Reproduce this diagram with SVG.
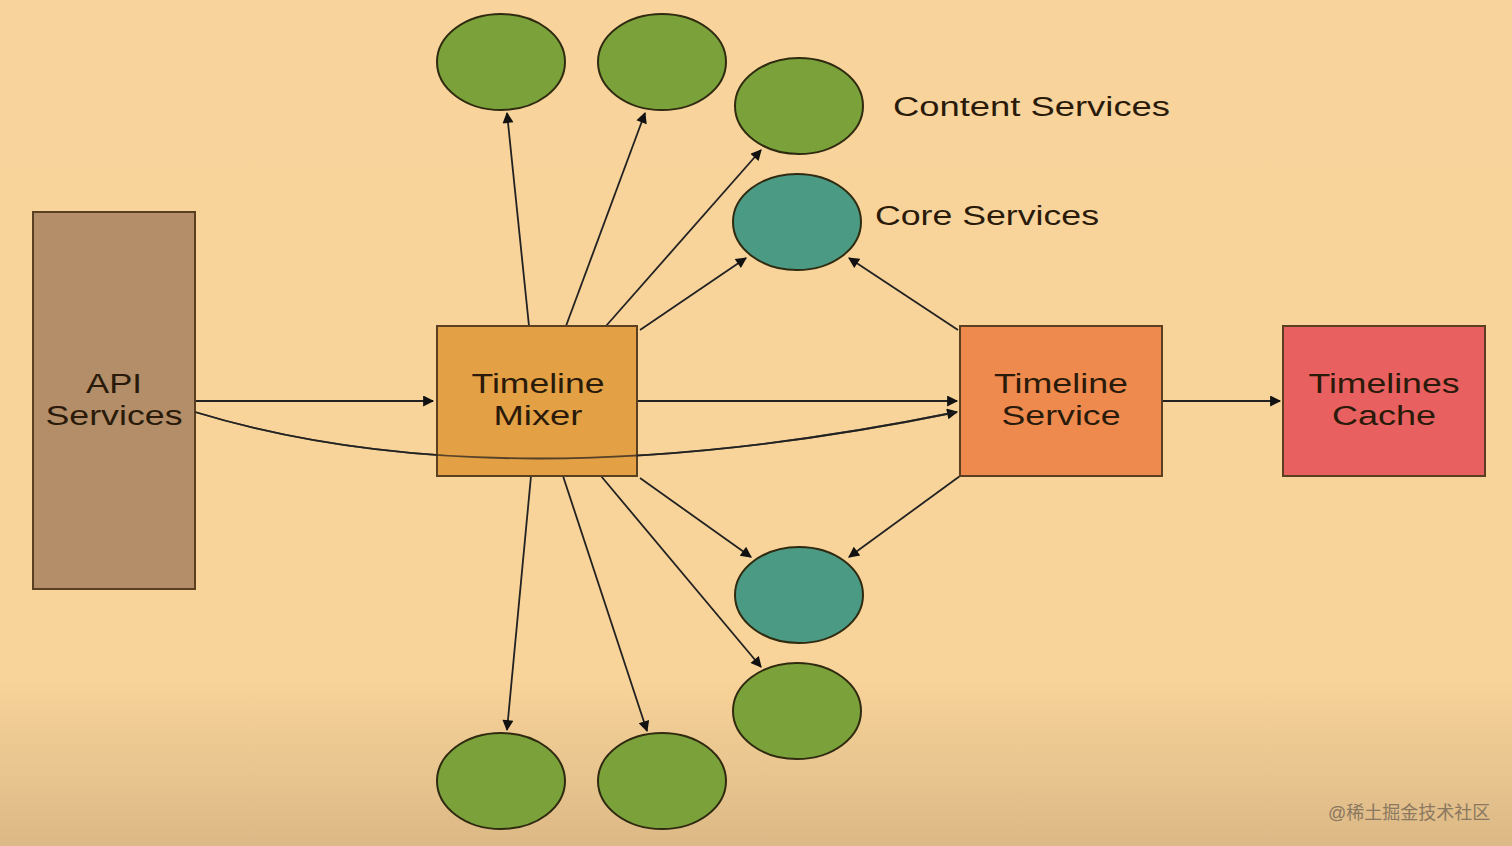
<svg xmlns="http://www.w3.org/2000/svg" width="1512" height="846" viewBox="0 0 1512 846">
<defs>
<linearGradient id="bg" x1="0" y1="0" x2="0" y2="1">
<stop offset="0" stop-color="#f8d49c"/>
<stop offset="0.8" stop-color="#f8d49a"/>
<stop offset="1" stop-color="#dcb886"/>
</linearGradient>
<marker id="ah" viewBox="0 0 10 10" refX="9" refY="5" markerWidth="18" markerHeight="11" markerUnits="userSpaceOnUse" orient="auto">
<path d="M0,0 L10,5 L0,10 z" fill="#111"/>
</marker>
<style>
.box{stroke:#5a4020;stroke-width:2}
.ell{stroke:#2f2a10;stroke-width:2}
.g{fill:#7ba23a}
.t{fill:#4b9a84}
.lbl{font-family:"Liberation Sans",Arial,sans-serif;font-size:27px;fill:#2a1a0a;text-anchor:middle}
.side{font-family:"Liberation Sans",Arial,sans-serif;font-size:27px;fill:#2a1a0a}
.c{fill:none;stroke:#222;stroke-width:1.8;marker-end:url(#ah)}
</style>
</defs>
<rect width="1512" height="846" fill="url(#bg)"/>
<g id="connectors">
<path class="c" d="M195,401 L433,401"/>
<path class="c" d="M195,412 Q500,505 957,412"/>
<path class="c" d="M637,401 L957,401"/>
<path class="c" d="M1162,401 L1280,401"/>
<path class="c" d="M529,326 L507,113"/>
<path class="c" d="M566,326 L645,113"/>
<path class="c" d="M606,326 L761,150"/>
<path class="c" d="M640,330 L746,258"/>
<path class="c" d="M958,330 L849,258"/>
<path class="c" d="M531,476 L507,730"/>
<path class="c" d="M563,476 L647,731"/>
<path class="c" d="M601,476 L761,667"/>
<path class="c" d="M640,478 L751,557"/>
<path class="c" d="M960,476 L849,557"/>
</g>
<g id="api-services">
<rect class="box" x="33" y="212" width="162" height="377" fill="#b38e68"/>
<text class="lbl" x="114" y="393" textLength="56" lengthAdjust="spacingAndGlyphs">API</text>
<text class="lbl" x="114" y="425" textLength="137" lengthAdjust="spacingAndGlyphs">Services</text>
</g>
<g id="timeline-mixer">
<rect class="box" x="437" y="326" width="200" height="150" fill="#e09a3c" fill-opacity="0.9"/>
<text class="lbl" x="538" y="393" textLength="133" lengthAdjust="spacingAndGlyphs">Timeline</text>
<text class="lbl" x="538" y="425" textLength="89" lengthAdjust="spacingAndGlyphs">Mixer</text>
</g>
<path d="M195,412 Q500,505 957,412" fill="none" stroke="#222" stroke-width="1.8" opacity="0.7"/>
<g id="timeline-service">
<rect class="box" x="960" y="326" width="202" height="150" fill="#ee8a4e"/>
<text class="lbl" x="1061" y="393" textLength="134" lengthAdjust="spacingAndGlyphs">Timeline</text>
<text class="lbl" x="1061" y="425" textLength="119" lengthAdjust="spacingAndGlyphs">Service</text>
</g>
<g id="timelines-cache">
<rect class="box" x="1283" y="326" width="202" height="150" fill="#e86060"/>
<text class="lbl" x="1384" y="393" textLength="151" lengthAdjust="spacingAndGlyphs">Timelines</text>
<text class="lbl" x="1384" y="425" textLength="104" lengthAdjust="spacingAndGlyphs">Cache</text>
</g>
<g id="content-1"><ellipse class="ell g" cx="501" cy="62" rx="64" ry="48"/></g>
<g id="content-2"><ellipse class="ell g" cx="662" cy="62" rx="64" ry="48"/></g>
<g id="content-3"><ellipse class="ell g" cx="799" cy="106" rx="64" ry="48"/></g>
<g id="core-1"><ellipse class="ell t" cx="797" cy="222" rx="64" ry="48"/></g>
<g id="core-2"><ellipse class="ell t" cx="799" cy="595" rx="64" ry="48"/></g>
<g id="content-4"><ellipse class="ell g" cx="797" cy="711" rx="64" ry="48"/></g>
<g id="content-5"><ellipse class="ell g" cx="501" cy="781" rx="64" ry="48"/></g>
<g id="content-6"><ellipse class="ell g" cx="662" cy="781" rx="64" ry="48"/></g>
<g id="labels">
<text class="side" x="893" y="116" textLength="277" lengthAdjust="spacingAndGlyphs">Content Services</text>
<text class="side" x="875" y="225" textLength="224" lengthAdjust="spacingAndGlyphs">Core Services</text>
</g>
<text x="1328" y="819" font-family="'Liberation Sans','Noto Sans CJK SC',sans-serif" font-size="18" fill="#8a7860">@稀土掘金技术社区</text>
</svg>
